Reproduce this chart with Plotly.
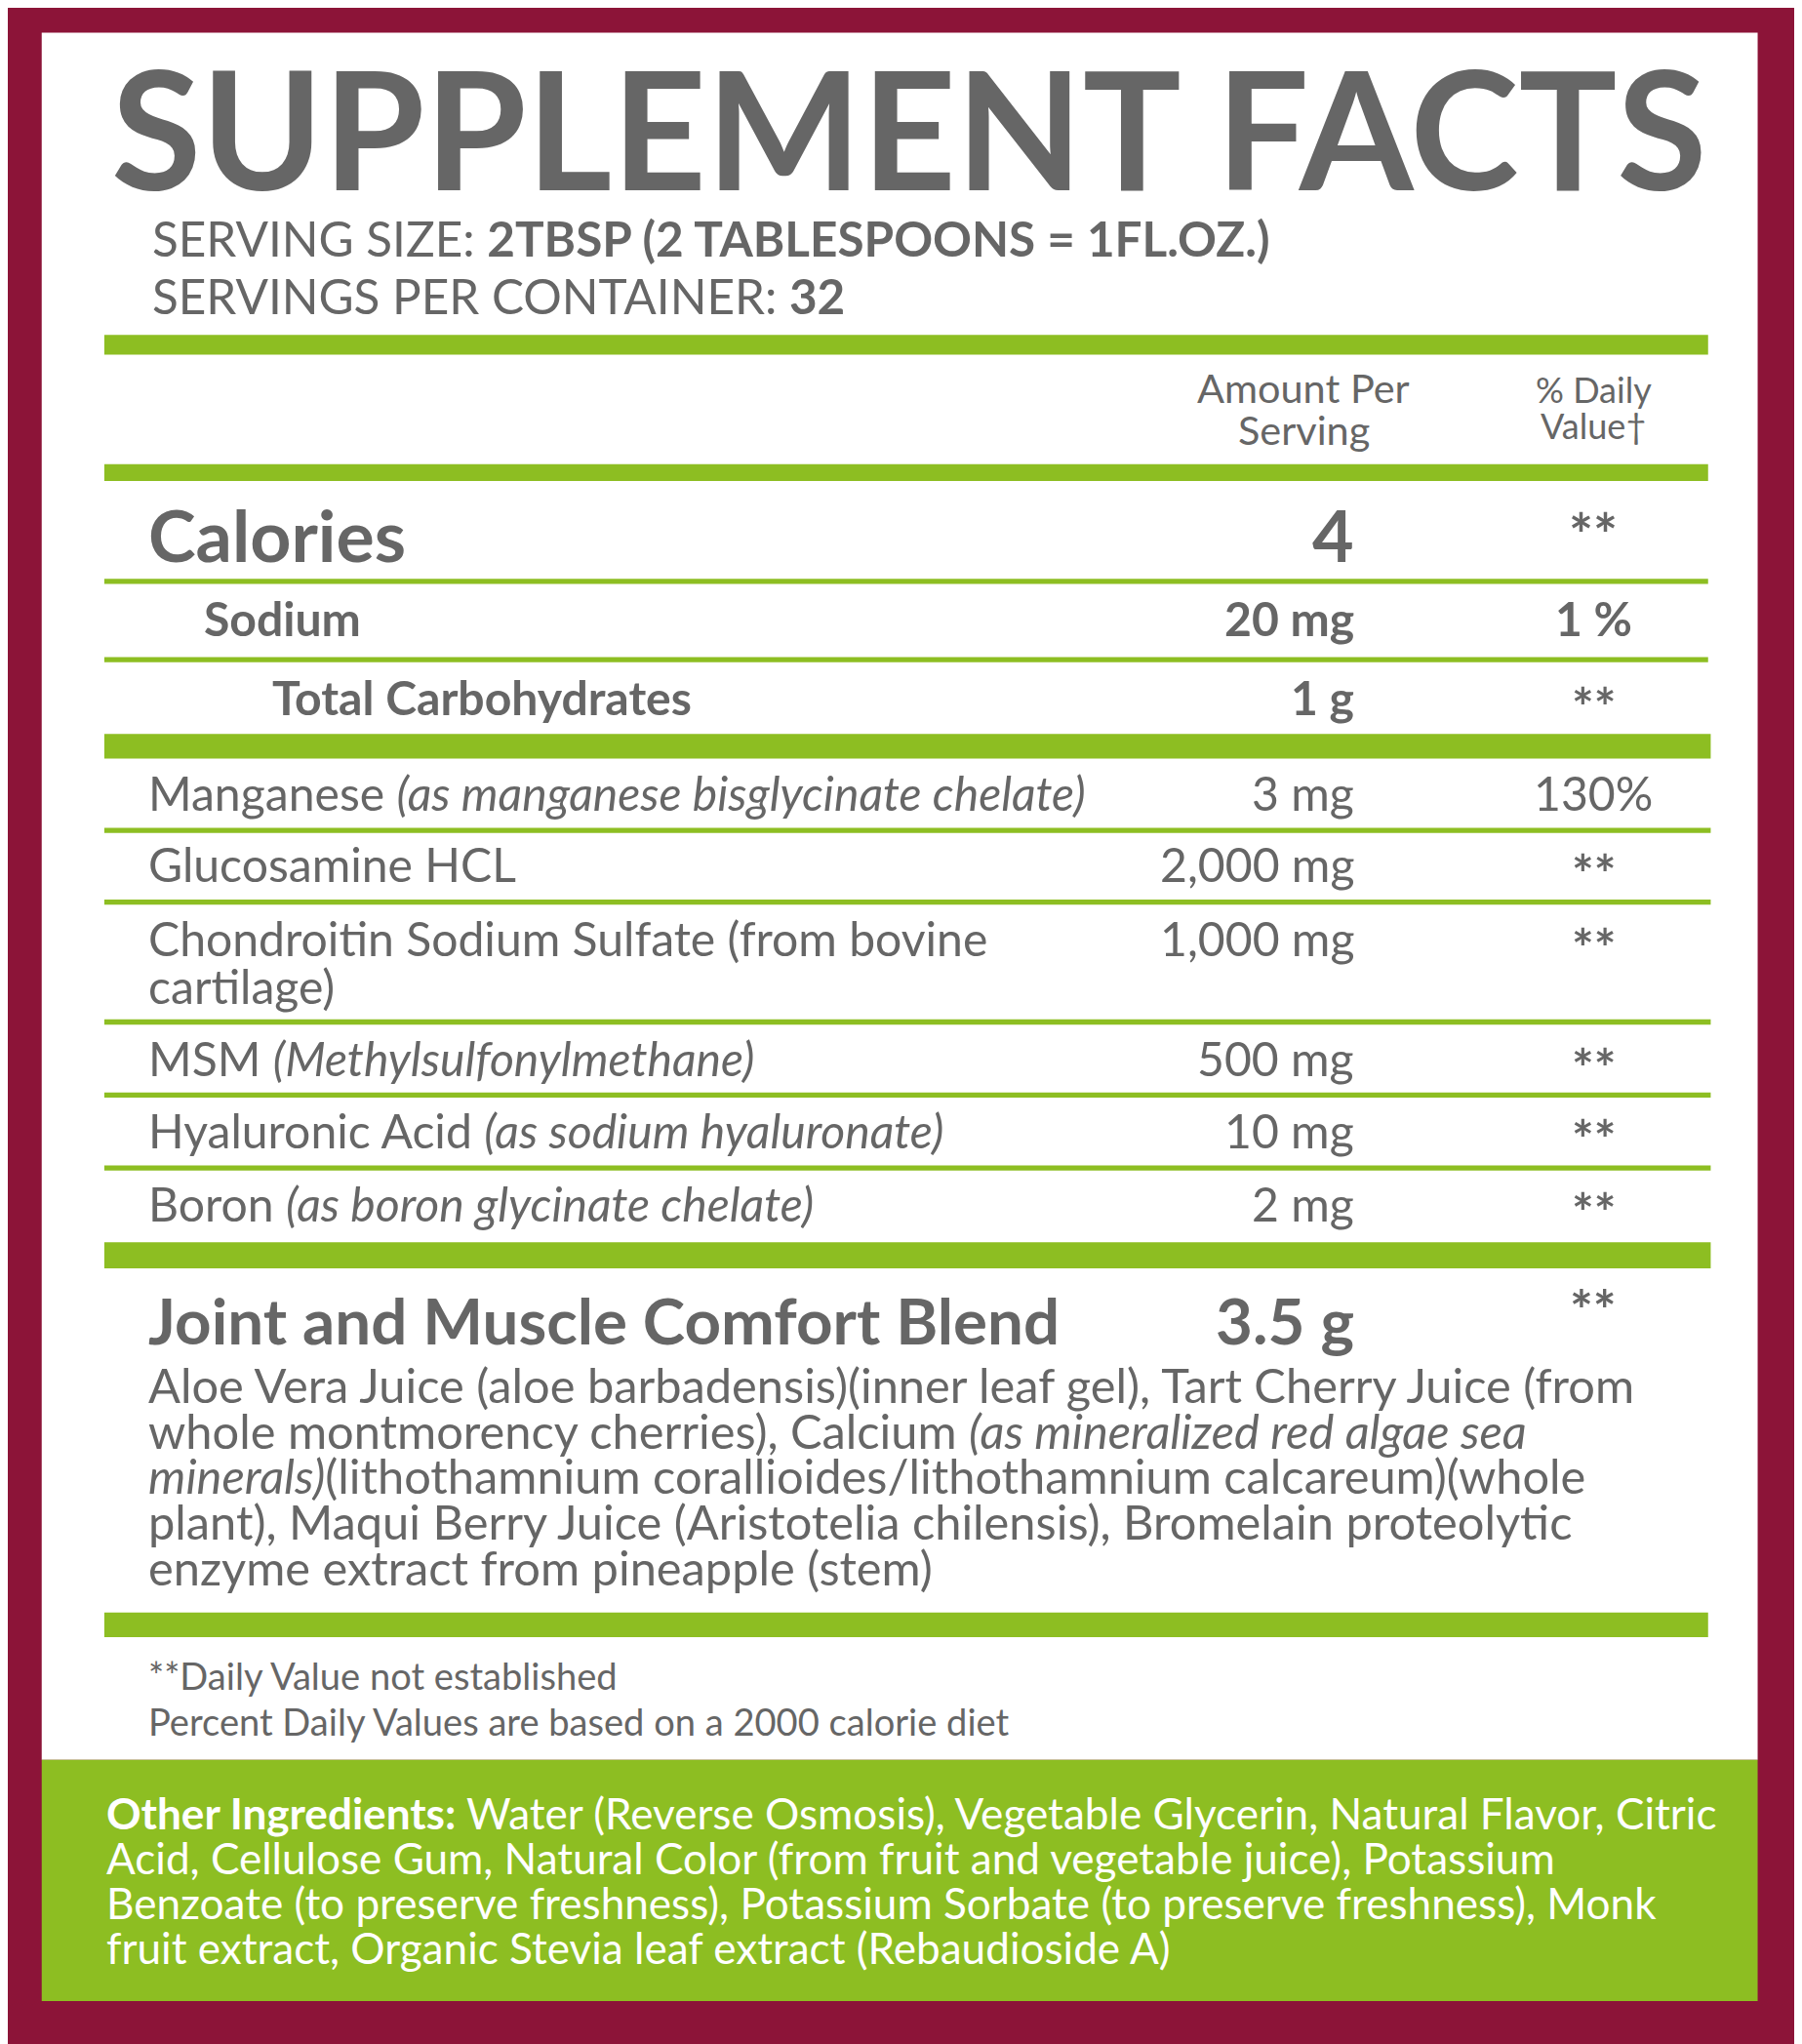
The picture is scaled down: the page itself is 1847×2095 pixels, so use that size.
import plotly.graph_objects as go

S = 1847/1382
MAROON = "#8C1438"; GREEN = "#8DBE22"; GRAY = "#666666"

title = "SUPPLEMENT FACTS"
serving = ["SERVING SIZE: <b>2TBSP (2 TABLESPOONS = 1FL.OZ.)</b>", "SERVINGS PER CONTAINER: <b>32</b>"]
top_names = ["<b>Sodium</b>", "<b>Total Carbohydrates</b>"]
top_amounts = ["<b>20 mg</b>", "<b>1 g</b>"]
top_dv = ["<b>1 %</b>", "**"]
names = ["Manganese <i>(as manganese bisglycinate chelate)</i>", "Glucosamine HCL",
         "Chondroitin Sodium Sulfate (from bovine", "MSM <i>(Methylsulfonylmethane)</i>",
         "Hyaluronic Acid <i>(as sodium hyaluronate)</i>", "Boron <i>(as boron glycinate chelate)</i>"]
name_extra = "cartilage)"
amounts = ["3 mg", "2,000 mg", "1,000 mg", "500 mg", "10 mg", "2 mg"]
dvs = ["130%", "**", "**", "**", "**", "**"]
blend_text = ["Aloe Vera Juice (aloe barbadensis)(inner leaf gel), Tart Cherry Juice (from",
              "whole montmorency cherries), Calcium <i>(as mineralized red algae sea</i>",
              "<i>minerals)</i>(lithothamnium corallioides/lithothamnium calcareum)(whole",
              "plant), Maqui Berry Juice (Aristotelia chilensis), Bromelain proteolytic",
              "enzyme extract from pineapple (stem)"]
foot = ["**Daily Value not established", "Percent Daily Values are based on a 2000 calorie diet"]
other = ["<b>Other Ingredients:</b> Water (Reverse Osmosis), Vegetable Glycerin, Natural Flavor, Citric",
         "Acid, Cellulose Gum, Natural Color (from fruit and vegetable juice), Potassium",
         "Benzoate (to preserve freshness), Potassium Sorbate (to preserve freshness), Monk",
         "fruit extract, Organic Stevia leaf extract (Rebaudioside A)"]

fig = go.Figure()
shapes = []
ann = []
def rect(x0, y0, x1, y1, c):
    shapes.append(dict(type="rect", x0=x0, y0=y0, x1=x1, y1=y1, fillcolor=c, line_width=0, layer="below"))
def text(x, y, t, size, anchor="left", color=GRAY, fam="Lato"):
    ann.append(dict(x=x, y=y, text=t, showarrow=False, xanchor=anchor, yanchor="middle",
                    font=dict(family=fam, size=size*S, color=color)))
def star(x, y, size=40):
    text(x, y + 6, "<b>**</b>", size, "center")

rect(32, 25, 1348, 1350, "white")
rect(32, 1350, 1348, 1535, GREEN)
text(697, 97, "<b>" + title + "</b>", 126, "center")
text(115, 183, serving[0], 37); text(115, 227, serving[1], 37)
rect(80, 257, 1310, 272, GREEN)
text(1000, 297, "Amount Per", 31, "center"); text(1000, 329, "Serving", 31, "center")
text(1222, 299, "% Daily", 27, "center"); text(1222, 326, "Value†", 27, "center")
rect(80, 356, 1310, 369, GREEN)
text(112, 410, "<b>Calories</b>", 55); text(1040, 410, "<b>4</b>", 55, "right"); star(1222, 404, 44)
rect(80, 444, 1310, 448, GREEN)
ys = [474, 535]; xs = [155, 207]
for i in range(2):
    text(xs[i], ys[i], top_names[i], 36); text(1040, ys[i], top_amounts[i], 36, "right")
    if top_dv[i] == "**":
        star(1222, ys[i])
    else:
        text(1222, ys[i], top_dv[i], 36, "center")
rect(80, 504, 1310, 508, GREEN)
rect(80, 563, 1312, 582, GREEN)
ys = [608, 663, 720, 812, 867, 923]
lines = [637, 692, 784, 840, 896]
for i in range(len(names)):
    text(112, ys[i], names[i], 36); text(1040, ys[i], amounts[i], 36, "right")
    if dvs[i] == "**":
        star(1222, ys[i])
    else:
        text(1222, ys[i], dvs[i], 36, "center")
text(112, 756, name_extra, 36)
for l in lines:
    rect(80, l-2, 1312, l+2, GREEN)
rect(80, 953, 1312, 973, GREEN)
text(112, 1012, "<b>Joint and Muscle Comfort Blend</b>", 49); text(1040, 1012, "<b>3.5 g</b>", 49, "right"); star(1222, 998, 42)
for i, t in enumerate(blend_text):
    text(112, 1062 + 35*i, t, 36.5)
rect(80, 1237, 1310, 1256, GREEN)
text(112, 1285, foot[0], 28.5); text(112, 1320, foot[1], 28.5)
for i, t in enumerate(other):
    text(80, 1390 + 34.5*i, t, 33, color="white")

fig.update_layout(width=1847, height=2095, margin=dict(l=0, r=0, t=0, b=0),
                  paper_bgcolor=MAROON, plot_bgcolor=MAROON, shapes=shapes, annotations=ann,
                  xaxis=dict(range=[6, 1388], visible=False, fixedrange=True),
                  yaxis=dict(range=[1574, 6], visible=False, fixedrange=True), showlegend=False)
fig.write_html("out.html")
